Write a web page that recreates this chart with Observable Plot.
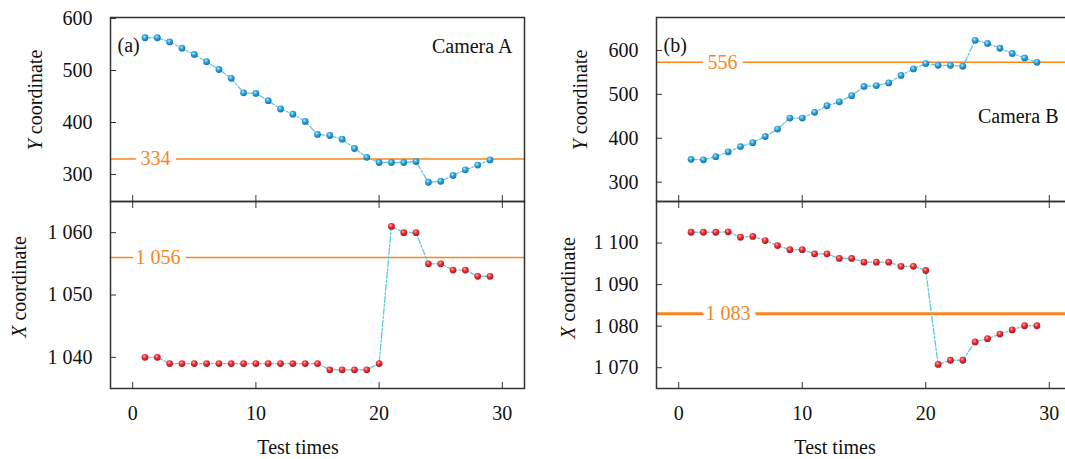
<!DOCTYPE html>
<html><head><meta charset="utf-8">
<script src="https://cdn.jsdelivr.net/npm/d3@7"></script>
<script src="https://cdn.jsdelivr.net/npm/@observablehq/plot@0.6"></script>
<style>
html,body{margin:0;padding:0;background:#fff;}
body{width:1065px;height:459px;overflow:hidden;position:relative;font-family:"Liberation Serif","Times New Roman",Times,"DejaVu Serif",serif;}
.p{position:absolute;}
.t{position:absolute;font-size:20px;line-height:1;white-space:nowrap;color:#111;}
.r{transform:translate(-50%,-50%) rotate(-90deg);}
.h{transform:translate(-50%,-50%);}
</style></head><body>
<svg width="0" height="0" style="position:absolute">
  <defs>
    <radialGradient id="gBlue" cx="40%" cy="35%" r="65%">
      <stop offset="0%" stop-color="#b8e8fb"/>
      <stop offset="45%" stop-color="#2ea3da"/>
      <stop offset="100%" stop-color="#1273ab"/>
    </radialGradient>
    <radialGradient id="gRed" cx="40%" cy="35%" r="65%">
      <stop offset="0%" stop-color="#ffb0b0"/>
      <stop offset="45%" stop-color="#ec2d35"/>
      <stop offset="100%" stop-color="#b3141c"/>
    </radialGradient>
  </defs>
</svg>
<div id="tl" class="p" style="left:0;top:0"></div>
<div id="bl" class="p" style="left:0;top:201px"></div>
<div id="tr" class="p" style="left:556px;top:0"></div>
<div id="br" class="p" style="left:556px;top:201px"></div>
<div class="t r" style="left:35px;top:100px"><i>Y</i> coordinate</div>
<div class="t r" style="left:19px;top:287px"><i>X</i> coordinate</div>
<div class="t r" style="left:580px;top:100px"><i>Y</i> coordinate</div>
<div class="t r" style="left:568px;top:288px"><i>X</i> coordinate</div>
<div class="t h" style="left:298px;top:447px">Test times</div>
<div class="t h" style="left:835px;top:447px">Test times</div>
<script>
// ---- data ----
const testTimes = [1,2,3,4,5,6,7,8,9,10,11,12,13,14,15,16,17,18,19,20,21,22,23,24,25,26,27,28,29];
const xTicks = [0, 10, 20, 30];

const camA_Y = [563,563,555,543,531,517,502,485,457,456,442,426,416,402,377,375,368,350,333,323,323,323,325,285,287,298,309,318,328];
const camA_X = [1040,1040,1039,1039,1039,1039,1039,1039,1039,1039,1039,1039,1039,1039,1039,1038,1038,1038,1038,1039,1061,1060,1060,1055,1055,1054,1054,1053,1053];
const camB_Y = [352,351,358,369,381,390,404,421,446,446,459,474,483,497,518,520,526,543,558,570,566,566,564,623,616,605,593,583,573];
const camB_X = [1102.6,1102.6,1102.6,1102.7,1101.4,1101.6,1100.6,1099.4,1098.4,1098.4,1097.4,1097.4,1096.3,1096.3,1095.4,1095.4,1095.4,1094.4,1094.4,1093.4,1070.8,1071.8,1071.8,1076.2,1077,1078.1,1079.1,1080.1,1080.1];

const refValues = [330, 1056, 573, 1083];
const refLabels = ["334", "1 056", "556", "1 083"];

const yTicksA_Y = [300, 400, 500, 600];
const yTicksA_X = [1040, 1050, 1060];
const yTicksB_Y = [300, 400, 500, 600];
const yTicksB_X = [1070, 1080, 1090, 1100];

const panelLabels = ["(a)", "(b)"];
const cameraLabels = ["Camera A", "Camera B"];

// ---- styles ----
const FONT = '"Liberation Serif","Times New Roman",Times,"DejaVu Serif",serif';
const ORANGE = "#f7861f";
const CYAN = "#62c9da";
const AXIS = "#333";
const fmt = d => d3.format(",")(d).replace(/,/g, " ");

function panel(o) {
  const data = testTimes.map((t, i) => ({t, v: o.values[i]}));
  const marks = [
    Plot.ruleY([o.ref], {stroke: ORANGE, strokeWidth: o.refWidth || 1.5}),
    Plot.text([{v: o.ref, label: o.refLabel}], {y: "v", text: "label", frameAnchor: "left", dx: o.refDx,
      textAnchor: "start", fill: ORANGE, stroke: "white", strokeWidth: 12, fontSize: 20, fontFamily: FONT}),
    Plot.line(data, {x: "t", y: "v", stroke: CYAN, strokeWidth: 1.3, strokeDasharray: "6,2,2,2"}),
    Plot.dot(data, {x: "t", y: "v", r: 3.4, fill: o.fill, stroke: "none"}),
    Plot.axisY({ticks: o.yTicks, tickFormat: fmt, anchor: "left", tickSize: 6, inset: 6, tickPadding: 18,
      label: null, stroke: AXIS, fill: "#111", fontFamily: FONT})
  ];
  if (o.top) {
    marks.push(Plot.axisX({ticks: xTicks, anchor: "bottom", tickSize: 6, inset: 6, tickFormat: () => "", label: null, stroke: AXIS}));
  } else {
    marks.push(Plot.axisX({ticks: xTicks, anchor: "top", tickSize: 6, inset: 6, tickFormat: () => "", label: null, stroke: AXIS}));
    marks.push(Plot.axisX({ticks: xTicks, anchor: "bottom", tickSize: 6, inset: 6, tickPadding: 17, label: null, stroke: AXIS, fill: "#111", fontFamily: FONT}));
  }
  if (o.notes) marks.push(...o.notes);
  marks.push(Plot.frame({stroke: AXIS, strokeWidth: 1.5}));
  return Plot.plot({
    width: o.width,
    height: o.top ? 201 : 227,
    marginTop: o.top ? 17 : 0,
    marginBottom: o.top ? 0 : 40,
    marginLeft: o.marginLeft,
    marginRight: 10,
    x: {domain: [-1.8, 31.8], label: null},
    y: {domain: o.yDomain, label: null},
    style: {fontFamily: FONT, fontSize: "20px", background: "transparent", overflow: "visible", maxWidth: "none", color: "#111"},
    marks
  });
}

document.getElementById("tl").append(panel({
  values: camA_Y, yDomain: [248, 602], yTicks: yTicksA_Y, ref: refValues[0], refLabel: refLabels[0], refDx: 30,
  fill: "url(#gBlue)", width: 534, marginLeft: 110, top: true,
  notes: [
    Plot.text([panelLabels[0]], {text: d => d, frameAnchor: "top-left", dx: 7, dy: 20, textAnchor: "start", fontSize: 20, fontFamily: FONT, fill: "#111"}),
    Plot.text([cameraLabels[0]], {text: d => d, frameAnchor: "top-right", dx: -12, dy: 21, textAnchor: "end", fontSize: 20, fontFamily: FONT, fill: "#111"})
  ]
}));
document.getElementById("bl").append(panel({
  values: camA_X, yDomain: [1035, 1065], yTicks: yTicksA_X, ref: refValues[1], refLabel: refLabels[1], refDx: 25,
  fill: "url(#gRed)", width: 534, marginLeft: 110, top: false
}));
document.getElementById("tr").append(panel({
  values: camB_Y, yDomain: [256, 675], yTicks: yTicksB_Y, ref: refValues[2], refLabel: refLabels[2], refDx: 51,
  fill: "url(#gBlue)", width: 525, marginLeft: 100, top: true,
  notes: [
    Plot.text([panelLabels[1]], {text: d => d, frameAnchor: "top-left", dx: 7, dy: 20, textAnchor: "start", fontSize: 20, fontFamily: FONT, fill: "#111"}),
    Plot.text([cameraLabels[1]], {text: d => d, frameAnchor: "top-right", dx: -13, dy: 91, textAnchor: "end", fontSize: 20, fontFamily: FONT, fill: "#111"})
  ]
}));
document.getElementById("br").append(panel({
  values: camB_X, yDomain: [1065, 1110], yTicks: yTicksB_X, ref: refValues[3], refLabel: refLabels[3], refDx: 49, refWidth: 3,
  fill: "url(#gRed)", width: 525, marginLeft: 100, top: false
}));
</script>
</body></html>
